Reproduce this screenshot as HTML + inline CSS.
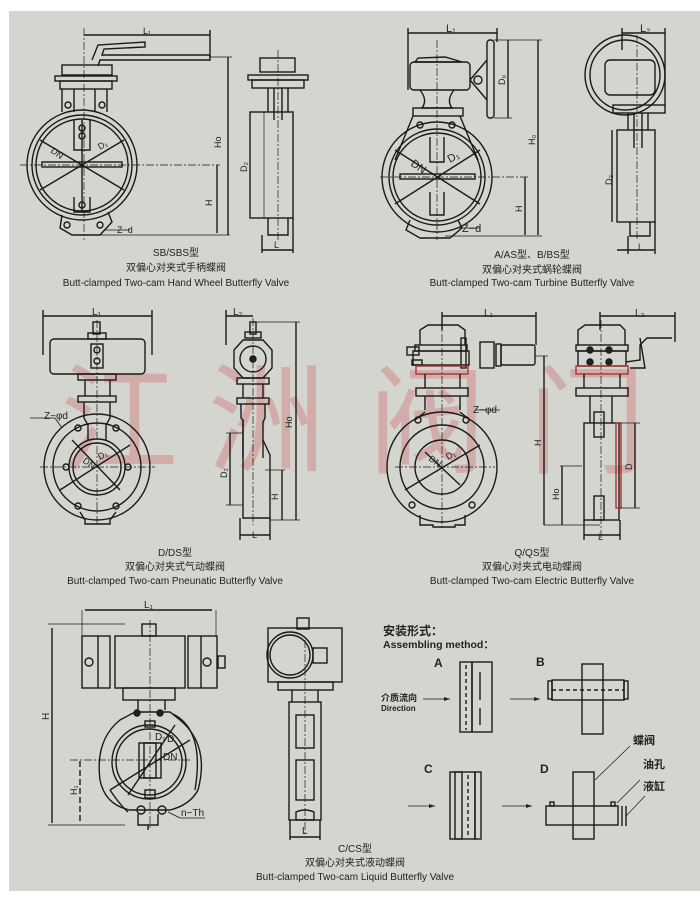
<!DOCTYPE html>
<html><head><meta charset="utf-8"><style>
html,body{margin:0;padding:0;background:#fff;}
svg{display:block;}
text{font-family:"Liberation Sans","Noto Sans CJK SC",sans-serif;fill:#222;}
</style></head><body>
<svg width="700" height="897" viewBox="0 0 700 897" xmlns="http://www.w3.org/2000/svg">
<rect x="9" y="11" width="691" height="880" fill="#d4d5cf"/>
<!-- watermark -->
<g font-family="'Noto Serif CJK SC',serif" font-size="118" opacity="0.33">
<text x="60" y="462" style="fill:#d05a5a">江</text>
<text x="208" y="462" style="fill:#d05a5a">洲</text>
<text x="368" y="464" style="fill:#d05a5a">阀</text>
<text x="528" y="464" style="fill:#d05a5a">门</text>
</g>
<g stroke="#1a1a1a" stroke-width="1.4" fill="none">
<!-- ===== Diagram 1 SB ===== -->
<line x1="84" y1="28" x2="84" y2="240" stroke-dasharray="8,2,2,2" stroke-width="0.7"/>
<line x1="84" y1="35" x2="210" y2="35"/><line x1="210" y1="30" x2="210" y2="58"/>
<path d="M92 60 L98 45 L145 42 L145 47 L104 49 L102 55 L210 55 L210 60 L100 60 L98 66"/>
<rect x="62" y="65" width="50" height="10"/>
<rect x="55" y="76" width="62" height="5"/><rect x="60" y="81" width="52" height="8"/>
<path d="M62 89 L62 112 M107 89 L107 112 M74 89 L74 112 M95 89 L95 112"/>
<circle cx="68" cy="105" r="3"/><circle cx="102" cy="105" r="3"/>
<circle cx="82" cy="165" r="55"/><circle cx="82" cy="165" r="50"/><circle cx="82" cy="165" r="46"/>
<rect x="42" y="162" width="80" height="5"/>
<path d="M74 120 L74 150 L90 150 L90 120 M74 197 L74 212 L90 212 L90 197"/>
<circle cx="82" cy="128" r="3"/><circle cx="82" cy="136" r="3"/><circle cx="82" cy="205" r="3"/>
<line x1="40" y1="140" x2="124" y2="190"/><line x1="40" y1="190" x2="124" y2="140"/><line x1="82" y1="120" x2="82" y2="212"/>
<path d="M62 215 L60 228 L72 235 L100 235 L112 222 L108 212"/>
<circle cx="67" cy="225" r="3"/><circle cx="100" cy="225" r="3"/>
<line x1="20" y1="165" x2="220" y2="165" stroke-dasharray="8,2,2,2" stroke-width="0.7"/>
<line x1="84" y1="235" x2="230" y2="235" stroke-width="0.7"/>
<line x1="228" y1="57" x2="228" y2="235"/><line x1="210" y1="57" x2="232" y2="57" stroke-width="0.7"/>
<line x1="217" y1="165" x2="217" y2="233"/>
<line x1="105" y1="230" x2="130" y2="230" stroke-width="0.8"/>
<!-- side 1 -->
<rect x="260" y="58" width="35" height="14"/>
<rect x="248" y="75" width="60" height="5"/><rect x="252" y="80" width="52" height="8"/>
<path d="M268 88 L268 112 M288 88 L288 112 M274 88 L274 120 M282 88 L282 120"/>
<rect x="250" y="112" width="43" height="106"/>
<path d="M268 218 L268 235 L288 235 L288 218"/>
<line x1="278" y1="50" x2="278" y2="240" stroke-dasharray="8,2,2,2" stroke-width="0.7"/>
<line x1="264" y1="112" x2="264" y2="218" stroke-width="0.7"/>
<line x1="262" y1="250" x2="293" y2="250"/><line x1="262" y1="235" x2="262" y2="253"/><line x1="293" y1="218" x2="293" y2="253"/>
<!-- ===== Diagram 2 A/AS ===== -->
<line x1="437" y1="40" x2="437" y2="240" stroke-dasharray="8,2,2,2" stroke-width="0.7"/>
<line x1="408" y1="33" x2="497" y2="33"/><line x1="408" y1="28" x2="408" y2="90"/><line x1="497" y1="28" x2="497" y2="42"/>
<path d="M415 62 L418 58 L445 57 L462 62 Z"/>
<rect x="410" y="62" width="60" height="28" rx="4"/>
<path d="M420 90 Q428 100 422 108 L452 108 Q446 100 454 90"/>
<rect x="413" y="108" width="50" height="8"/>
<path d="M413 116 L395 160 M460 116 L478 160"/>
<circle cx="420" cy="125" r="3"/><circle cx="452" cy="125" r="3"/>
<rect x="487" y="40" width="7" height="78" rx="3"/>
<path d="M470 80 L487 60 M470 80 L487 100"/><circle cx="478" cy="80" r="4"/>
<circle cx="437" cy="177" r="55"/><circle cx="437" cy="177" r="48"/><circle cx="437" cy="177" r="44"/>
<rect x="400" y="174" width="75" height="5"/>
<path d="M430 137 L430 162 L444 162 L444 137 M430 192 L430 215 L444 215 L444 192"/>
<line x1="395" y1="150" x2="480" y2="204"/><line x1="395" y1="204" x2="480" y2="150"/>
<path d="M410 220 L406 230 L420 238 L450 238 L462 228 L458 220"/>
<line x1="380" y1="177" x2="530" y2="177" stroke-dasharray="8,2,2,2" stroke-width="0.7"/>
<line x1="508" y1="40" x2="508" y2="118"/><line x1="538" y1="40" x2="538" y2="235"/>
<line x1="494" y1="40" x2="542" y2="40" stroke-width="0.7"/><line x1="494" y1="118" x2="512" y2="118" stroke-width="0.7"/>
<line x1="525" y1="177" x2="525" y2="235"/><line x1="445" y1="236" x2="542" y2="236" stroke-width="0.7"/>
<line x1="458" y1="228" x2="480" y2="228" stroke-width="0.8"/>
<!-- side 2 -->
<circle cx="625" cy="75" r="40"/><circle cx="625" cy="75" r="35"/>
<rect x="605" y="60" width="50" height="35" rx="5"/>
<rect x="613" y="105" width="52" height="8"/>
<path d="M634 113 L634 148 M642 113 L642 148 M628 113 L628 130 M648 113 L648 130"/>
<rect x="617" y="130" width="38" height="92"/>
<path d="M630 222 L630 236 L650 236 L650 222"/>
<line x1="637" y1="35" x2="637" y2="240" stroke-dasharray="8,2,2,2" stroke-width="0.7"/>
<line x1="622" y1="33" x2="665" y2="33"/><line x1="622" y1="28" x2="622" y2="50"/><line x1="665" y1="28" x2="665" y2="105"/>
<line x1="617" y1="250" x2="655" y2="250"/><line x1="628" y1="236" x2="628" y2="254"/><line x1="655" y1="222" x2="655" y2="254"/>
<line x1="612" y1="130" x2="612" y2="222"/>
<!-- ===== Diagram 3 D/DS ===== -->
<line x1="43" y1="316" x2="152" y2="316"/><line x1="43" y1="310" x2="43" y2="355"/><line x1="152" y1="310" x2="152" y2="355"/>
<line x1="97" y1="320" x2="97" y2="525" stroke-dasharray="8,2,2,2" stroke-width="0.7"/>
<rect x="93" y="322" width="7" height="12"/><rect x="88" y="333" width="18" height="6"/>
<rect x="50" y="339" width="95" height="35" rx="4"/>
<rect x="91" y="344" width="12" height="24"/><circle cx="97" cy="350" r="3"/><circle cx="97" cy="361" r="3"/>
<rect x="78" y="374" width="38" height="6"/>
<path d="M85 380 L85 396 M110 380 L110 396"/>
<rect x="78" y="396" width="38" height="6"/>
<path d="M84 402 L84 418 L88 425 L88 440 M110 402 L110 418 L106 425 L106 440"/>
<circle cx="97" cy="467" r="53"/><circle cx="97" cy="467" r="44"/><circle cx="97" cy="467" r="28"/><circle cx="97" cy="467" r="24"/>
<circle cx="78" cy="428" r="3"/><circle cx="116" cy="428" r="3"/><circle cx="66" cy="467" r="3"/><circle cx="128" cy="467" r="3"/>
<circle cx="78" cy="506" r="3"/><circle cx="116" cy="506" r="3"/>
<path d="M80 512 L85 520 L85 524 L110 524 L110 520 L116 512"/>
<line x1="40" y1="467" x2="155" y2="467" stroke-dasharray="8,2,2,2" stroke-width="0.7"/>
<line x1="60" y1="490" x2="130" y2="445"/><line x1="72" y1="440" x2="120" y2="490"/>
<line x1="30" y1="418" x2="55" y2="418" stroke-width="0.8"/><line x1="55" y1="418" x2="62" y2="428" stroke-width="0.8"/>
<!-- side 3 -->
<line x1="226" y1="316" x2="253" y2="316"/><line x1="226" y1="310" x2="226" y2="345"/>
<line x1="253" y1="318" x2="253" y2="525" stroke-dasharray="8,2,2,2" stroke-width="0.7"/>
<rect x="250" y="322" width="6" height="12"/><rect x="245" y="332" width="16" height="6"/>
<path d="M243 340 L263 340 L272 350 L272 368 L263 378 L243 378 L234 368 L234 350 Z"/>
<circle cx="253" cy="359" r="13"/><circle cx="253" cy="359" r="3" fill="#222"/>
<rect x="237" y="378" width="32" height="6"/><rect x="237" y="398" width="32" height="6"/>
<path d="M243 384 L243 398 M263 384 L263 398 M241 404 L241 418 L243 420 L243 458 M265 404 L265 418 L263 422 L263 458"/>
<path d="M243 420 L243 518 L270 518 L270 455 L263 440"/>
<line x1="240" y1="535" x2="270" y2="535"/><line x1="240" y1="518" x2="240" y2="540"/><line x1="270" y1="518" x2="270" y2="540"/>
<line x1="296" y1="322" x2="296" y2="520"/><line x1="256" y1="322" x2="300" y2="322" stroke-width="0.7"/><line x1="270" y1="520" x2="300" y2="520" stroke-width="0.7"/>
<line x1="282" y1="470" x2="282" y2="520"/><line x1="265" y1="470" x2="285" y2="470" stroke-width="0.7"/>
<line x1="230" y1="433" x2="230" y2="505"/><line x1="226" y1="433" x2="243" y2="433" stroke-width="0.7"/><line x1="226" y1="505" x2="243" y2="505" stroke-width="0.7"/>
<!-- ===== Diagram 4 Q/QS ===== -->
<line x1="442" y1="316" x2="536" y2="316"/><line x1="442" y1="312" x2="442" y2="330"/><line x1="536" y1="312" x2="536" y2="345"/>
<line x1="442" y1="320" x2="442" y2="530" stroke-dasharray="8,2,2,2" stroke-width="0.7"/>
<path d="M420 345 L420 330 L428 325 L458 325 L465 330 L465 345"/>
<rect x="415" y="345" width="52" height="6"/>
<rect x="407" y="347" width="12" height="8"/>
<rect x="413" y="351" width="56" height="14"/>
<rect x="412" y="360" width="10" height="5"/>
<rect x="461" y="338" width="5" height="30"/>
<rect x="480" y="342" width="14" height="26"/><rect x="496" y="344" width="5" height="22"/>
<rect x="501" y="345" width="34" height="20" rx="2"/>
<rect x="416" y="366" width="52" height="8" stroke="#a33"/>
<path d="M425 374 L425 388 M460 374 L460 388"/>
<rect x="416" y="388" width="52" height="8"/>
<path d="M425 396 L425 410 M460 396 L460 410"/>
<path d="M425 412 L415 420 M460 412 L470 420"/>
<circle cx="442" cy="467" r="55"/><circle cx="442" cy="467" r="42"/><circle cx="442" cy="467" r="27"/>
<circle cx="418" cy="420" r="3"/><circle cx="466" cy="420" r="3"/><circle cx="412" cy="505" r="3"/><circle cx="472" cy="505" r="3"/>
<path d="M420 515 L420 525 L433 525 L433 527 L455 527 L455 525 L465 525 L465 515"/>
<line x1="395" y1="467" x2="495" y2="467" stroke-dasharray="8,2,2,2" stroke-width="0.7"/>
<line x1="405" y1="490" x2="480" y2="445"/><line x1="425" y1="452" x2="460" y2="485"/>
<line x1="475" y1="410" x2="500" y2="410" stroke-width="0.8"/>
<line x1="544" y1="356" x2="544" y2="525"/><line x1="535" y1="356" x2="548" y2="356" stroke-width="0.7"/>
<line x1="562" y1="466" x2="562" y2="525"/><line x1="544" y1="525" x2="600" y2="525" stroke-width="0.7"/><line x1="560" y1="466" x2="582" y2="466" stroke-width="0.7"/>
<!-- side 4 -->
<line x1="600" y1="316" x2="675" y2="316"/><line x1="675" y1="312" x2="675" y2="342"/><line x1="600" y1="312" x2="600" y2="330"/>
<line x1="601" y1="320" x2="601" y2="540" stroke-dasharray="8,2,2,2" stroke-width="0.7"/>
<path d="M578 345 L578 330 L585 325 L620 325 L625 330 L625 345"/>
<rect x="576" y="345" width="52" height="6"/>
<rect x="578" y="351" width="48" height="15"/>
<circle cx="590" cy="350" r="3" fill="#222"/><circle cx="609" cy="350" r="3" fill="#222"/><circle cx="590" cy="362" r="3" fill="#222"/><circle cx="609" cy="362" r="3" fill="#222"/>
<path d="M626 362 L640 360 L640 345 L647 338 L672 338 M640 338 L645 368 L630 368"/>
<rect x="576" y="366" width="52" height="8" stroke="#a33"/>
<rect x="576" y="388" width="52" height="8"/>
<path d="M584 374 L584 388 M620 374 L620 388 M590 396 L590 423 M612 396 L612 423"/>
<rect x="584" y="423" width="35" height="97"/><rect x="616" y="423" width="5" height="85" stroke="#a33"/>
<rect x="594" y="412" width="10" height="25"/><rect x="594" y="496" width="10" height="24"/>
<line x1="584" y1="535" x2="620" y2="535"/><line x1="584" y1="520" x2="584" y2="540"/><line x1="620" y1="520" x2="620" y2="540"/>
<line x1="635" y1="423" x2="635" y2="508"/><line x1="620" y1="423" x2="640" y2="423" stroke-width="0.7"/><line x1="620" y1="508" x2="640" y2="508" stroke-width="0.7"/>
<!-- ===== Diagram 5 C/CS ===== -->
<line x1="82" y1="610" x2="82" y2="636" stroke-width="0.7"/><line x1="216" y1="610" x2="216" y2="636" stroke-width="0.7"/>
<line x1="85" y1="610" x2="212" y2="610"/>
<line x1="48" y1="624" x2="125" y2="624" stroke-width="0.7"/>
<line x1="52" y1="628" x2="52" y2="823"/><line x1="80" y1="761" x2="80" y2="822" stroke-dasharray="6,3"/>
<line x1="48" y1="825" x2="125" y2="825" stroke-width="0.7"/>
<rect x="142" y="624" width="14" height="12"/>
<rect x="82" y="636" width="28" height="52"/>
<line x1="98" y1="636" x2="98" y2="688"/>
<rect x="115" y="636" width="70" height="52"/>
<rect x="188" y="636" width="29" height="52"/><line x1="201" y1="636" x2="201" y2="688"/>
<circle cx="89" cy="662" r="4"/><circle cx="207" cy="662" r="4"/>
<rect x="218" y="656" width="7" height="12"/>
<rect x="123" y="688" width="52" height="12"/>
<path d="M138 700 L138 710 M165 700 L165 710"/>
<path d="M135 712 L170 712 L180 720 Q210 745 198 790 Q190 805 170 810 L130 810 Q105 805 100 780 Q95 740 120 720 Z"/>
<circle cx="137" cy="713" r="3" fill="#222"/><circle cx="160" cy="713" r="3" fill="#222"/>
<circle cx="149" cy="762" r="37"/><circle cx="149" cy="762" r="33"/>
<rect x="139" y="743" width="22" height="35"/><rect x="144" y="743" width="12" height="35"/>
<rect x="145" y="721" width="10" height="6"/><rect x="145" y="790" width="10" height="8"/>
<circle cx="141" cy="810" r="4"/><circle cx="162" cy="810" r="4"/>
<path d="M138 814 L138 825 L158 825 L158 814"/><line x1="148" y1="825" x2="148" y2="830"/>
<line x1="150" y1="620" x2="150" y2="830" stroke-dasharray="8,2,2,2" stroke-width="0.7"/>
<line x1="70" y1="760" x2="190" y2="760" stroke-dasharray="8,2,2,2" stroke-width="0.7"/>
<line x1="128" y1="795" x2="175" y2="725"/><line x1="110" y1="790" x2="190" y2="740"/>
<path d="M173 714 Q205 730 195 790 M110 790 Q120 805 128 812"/>
<line x1="168" y1="812" x2="180" y2="818" stroke-width="0.8"/><line x1="180" y1="818" x2="205" y2="818" stroke-width="0.8"/>
<!-- side 5 -->
<rect x="297" y="618" width="12" height="11"/>
<rect x="268" y="628" width="74" height="54"/>
<circle cx="290" cy="655" r="23"/><circle cx="290" cy="655" r="20"/>
<rect x="313" y="648" width="14" height="15"/>
<rect x="278" y="682" width="55" height="8"/>
<path d="M292 690 L292 702 M318 690 L318 702"/>
<rect x="289" y="702" width="32" height="118"/>
<rect x="296" y="715" width="18" height="33"/><rect x="296" y="760" width="18" height="40"/>
<path d="M296 812 Q305 808 314 812 L314 820 L296 820 Z"/>
<line x1="305" y1="640" x2="305" y2="835" stroke-dasharray="8,2,2,2" stroke-width="0.7"/>
<line x1="290" y1="837" x2="320" y2="837"/><line x1="290" y1="820" x2="290" y2="840"/><line x1="320" y1="820" x2="320" y2="840"/>
<!-- ===== Assembling ===== -->
<rect x="460" y="662" width="12" height="70"/><rect x="472" y="662" width="20" height="70"/>
<path d="M480 672 L480 700 M480 708 L480 725"/><line x1="466" y1="665" x2="466" y2="730" stroke-dasharray="4,3"/>
<line x1="423" y1="699" x2="450" y2="699" stroke-width="0.8"/>
<line x1="510" y1="699" x2="540" y2="699" stroke-width="0.8"/>
<rect x="582" y="664" width="21" height="70"/>
<rect x="552" y="680" width="72" height="20"/><rect x="548" y="681" width="4" height="18"/><rect x="624" y="681" width="4" height="18"/>
<line x1="552" y1="690" x2="624" y2="690" stroke-dasharray="4,3"/>
<rect x="450" y="772" width="12" height="67"/><rect x="455" y="772" width="20" height="67"/><rect x="475" y="772" width="6" height="67"/>
<line x1="468" y1="775" x2="468" y2="835" stroke-dasharray="4,3"/>
<line x1="408" y1="806" x2="435" y2="806" stroke-width="0.8"/>
<line x1="502" y1="806" x2="532" y2="806" stroke-width="0.8"/>
<rect x="573" y="772" width="21" height="67"/>
<rect x="546" y="806" width="72" height="19"/><rect x="550" y="802" width="4" height="4"/><rect x="611" y="802" width="4" height="4"/>
<path d="M622 806 L622 826 M626 806 L626 826"/>
<line x1="595" y1="780" x2="630" y2="746" stroke-width="0.7"/>
<line x1="617" y1="803" x2="640" y2="780" stroke-width="0.7"/>
<line x1="626" y1="816" x2="645" y2="796" stroke-width="0.7"/>
</g>
<!-- arrowheads -->
<g fill="#222">
<path d="M450 699 l-6 -2 l0 4z"/><path d="M540 699 l-6 -2 l0 4z"/>
<path d="M435 806 l-6 -2 l0 4z"/><path d="M532 806 l-6 -2 l0 4z"/>
</g>
<!-- labels -->
<g font-size="9">
<text x="143" y="34">L₁</text><text x="221" y="148" transform="rotate(-90 221 148)">Ho</text><text x="212" y="206" transform="rotate(-90 212 206)">H</text>
<text x="247" y="172" transform="rotate(-90 247 172)">D₂</text><text x="274" y="248">L</text>
<text x="50" y="152" transform="rotate(35 50 152)">DN</text><text x="100" y="150" transform="rotate(-30 100 150)">D₁</text>
<text x="117" y="233">Z−d</text>
<text x="446" y="32" font-size="11">L₁</text><text x="640" y="32" font-size="11">L₂</text>
<text x="505" y="85" transform="rotate(-90 505 85)">D₀</text><text x="535" y="145" transform="rotate(-90 535 145)">H₀</text>
<text x="522" y="212" transform="rotate(-90 522 212)">H</text><text x="612" y="185" transform="rotate(-90 612 185)">D₂</text>
<text x="638" y="250">L</text>
<text x="410" y="165" transform="rotate(35 410 165)" font-size="11">DN</text><text x="450" y="163" transform="rotate(-30 450 163)" font-size="11">D₁</text>
<text x="462" y="232" font-size="11">Z−d</text>
<text x="92" y="315" font-size="10">L₁</text><text x="233" y="315" font-size="10">L₂</text>
<text x="44" y="419" font-size="10">Z−φd</text>
<text x="82" y="462" transform="rotate(35 82 462)">DN</text><text x="100" y="460" transform="rotate(-30 100 460)">D₁</text>
<text x="292" y="428" transform="rotate(-90 292 428)">Ho</text><text x="227" y="478" transform="rotate(-90 227 478)">D₂</text>
<text x="278" y="500" transform="rotate(-90 278 500)">H</text><text x="252" y="538">L</text>
<text x="484" y="316" font-size="10">L₁</text><text x="635" y="316" font-size="10">L₂</text>
<text x="473" y="413" font-size="10">Z−φd</text>
<text x="428" y="460" transform="rotate(35 428 460)">DN</text><text x="448" y="460" transform="rotate(-30 448 460)">D₁</text>
<text x="541" y="446" transform="rotate(-90 541 446)">H</text><text x="559" y="500" transform="rotate(-90 559 500)">Ho</text>
<text x="632" y="470" transform="rotate(-90 632 470)">D</text><text x="598" y="540">L</text>
<text x="144" y="608" font-size="10">L₁</text>
<text x="49" y="720" transform="rotate(-90 49 720)" font-size="10">H</text><text x="77" y="795" transform="rotate(-90 77 795)">H₁</text>
<text x="155" y="740" font-size="10">D₁</text><text x="167" y="742" font-size="10">D</text><text x="163" y="760" font-size="10">DN</text>
<text x="181" y="816" font-size="10">n−Th</text><text x="302" y="834" font-size="10">L</text>
</g>
<g font-size="10" text-anchor="middle" fill="#222">
<text x="176" y="256">SB/SBS型</text><text x="176" y="271">双偏心对夹式手柄蝶阀</text><text x="176" y="286">Butt-clamped Two-cam Hand Wheel Butterfly Valve</text>
<text x="532" y="258">A/AS型、B/BS型</text><text x="532" y="273">双偏心对夹式蜗轮蝶阀</text><text x="532" y="286">Butt-clamped Two-cam Turbine Butterfly Valve</text>
<text x="175" y="556">D/DS型</text><text x="175" y="570">双偏心对夹式气动蝶阀</text><text x="175" y="584">Butt-clamped Two-cam Pneunatic Butterfly Valve</text>
<text x="532" y="556">Q/QS型</text><text x="532" y="570">双偏心对夹式电动蝶阀</text><text x="532" y="584">Butt-clamped Two-cam Electric Butterfly Valve</text>
<text x="355" y="852">C/CS型</text><text x="355" y="866">双偏心对夹式液动蝶阀</text><text x="355" y="880">Butt-clamped Two-cam Liquid Butterfly Valve</text>
</g>
<g font-weight="bold" fill="#222">
<text x="383" y="635" font-size="12">安装形式：</text>
<text x="383" y="648" font-size="10.5">Assembling  method：</text>
<text x="434" y="667" font-size="12">A</text><text x="536" y="666" font-size="12">B</text>
<text x="424" y="773" font-size="12">C</text><text x="540" y="773" font-size="12">D</text>
<text x="381" y="701" font-size="9">介质流向</text><text x="381" y="711" font-size="8">Direction</text>
<text x="633" y="744" font-size="11">蝶阀</text><text x="643" y="768" font-size="11">油孔</text><text x="643" y="790" font-size="11">液缸</text>
</g>
</svg>
</body></html>
